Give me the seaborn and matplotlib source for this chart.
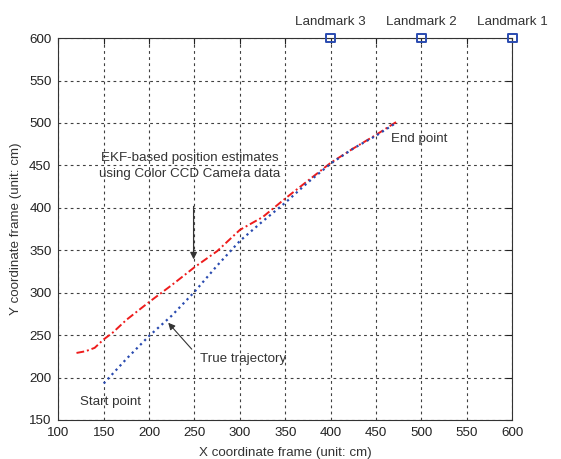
#!/usr/bin/env python3
# -*- coding: utf-8 -*-
"""
EKF-based position estimates vs. true trajectory.
"""

import pandas as pd
import matplotlib
matplotlib.use('Agg')
import matplotlib.pyplot as plt
import seaborn as sns

# EKF estimate (red dash-dot)
ekf_x = [120, 130, 140, 150, 160, 175, 200, 225, 250, 275, 290, 300, 310,
         325, 350, 375, 400, 425, 450, 472]
ekf_y = [229, 231, 235, 245, 253, 268, 289, 309, 330, 349, 364, 374, 380,
         389, 411, 432, 453, 470, 486, 501]

# True trajectory (blue dotted)
true_x = [150, 175, 200, 225, 250, 275, 300, 325, 350, 375, 400, 425, 450, 472]
true_y = [193, 222, 249, 273, 301, 332, 361, 384, 406, 430, 452, 470, 485, 500]

# Landmarks
lm_x = [400, 500, 600]
lm_y = [600, 600, 600]
lm_names = ['Landmark 3', 'Landmark 2', 'Landmark 1']

x_ticks = list(range(100, 601, 50))
y_ticks = list(range(150, 601, 50))

sns.set_style('white')
plt.rcParams['font.family'] = ['Liberation Sans', 'DejaVu Sans']

FS = 9.6
TXT = '#333333'

df_ekf = pd.DataFrame({'x': ekf_x, 'y': ekf_y})
df_true = pd.DataFrame({'x': true_x, 'y': true_y})
df_lm = pd.DataFrame({'x': lm_x, 'y': lm_y})

fig = plt.figure(figsize=(5.61, 4.59), dpi=100)
ax = fig.add_axes([0.104, 0.085, 0.809, 0.832])

sns.lineplot(data=df_ekf, x='x', y='y', ax=ax, sort=False, color='#ee1c1c',
             linestyle=(0, (4, 1.5, 1, 1.5)), linewidth=1.4)
sns.lineplot(data=df_true, x='x', y='y', ax=ax, sort=False, color='#2a4bb0',
             linestyle=':', linewidth=1.6)
sns.scatterplot(data=df_lm, x='x', y='y', ax=ax, marker='s', s=40,
                facecolor='none', edgecolor='#2a4bb0', linewidth=1.4,
                clip_on=False, zorder=5)

for lx, ly, name in zip(lm_x, lm_y, lm_names):
    ax.text(lx, ly + 12, name, ha='center', va='bottom', fontsize=FS,
            color=TXT)

ax.set_xlim(100, 600)
ax.set_ylim(150, 600)
ax.set_xticks(x_ticks)
ax.set_yticks(y_ticks)
ax.tick_params(direction='in', length=4, labelsize=FS, colors='#222222',
               top=True, right=True, pad=5)
ax.grid(True, color='0.25', linestyle=(0, (2.5, 3)), linewidth=0.8)
for sp in ax.spines.values():
    sp.set_color('#333333')
    sp.set_linewidth(0.8)

ax.set_xlabel('X coordinate frame (unit: cm)', fontsize=FS, color=TXT,
              labelpad=6)
ax.set_ylabel('Y coordinate frame (unit: cm)', fontsize=FS, color=TXT,
              labelpad=5)

# Annotations
ax.text(245, 449, 'EKF-based position estimates\nusing Color CCD Camera data',
        ha='center', va='center', fontsize=FS, color=TXT, linespacing=1.45)
ax.annotate('', xy=(249, 336), xytext=(249, 405),
            arrowprops=dict(arrowstyle='-|>', color=TXT, lw=0.9,
                            mutation_scale=10))
ax.text(256, 222, 'True trajectory', ha='left', va='center', fontsize=FS,
        color=TXT)
ax.annotate('', xy=(219, 267), xytext=(249, 231),
            arrowprops=dict(arrowstyle='-|>', color=TXT, lw=0.8,
                            mutation_scale=10))
ax.text(158, 171, 'Start point', ha='center', va='center', fontsize=FS,
        color=TXT)
ax.text(467, 481, 'End point', ha='left', va='center', fontsize=FS,
        color=TXT)

plt.savefig('out.png', dpi=100)
